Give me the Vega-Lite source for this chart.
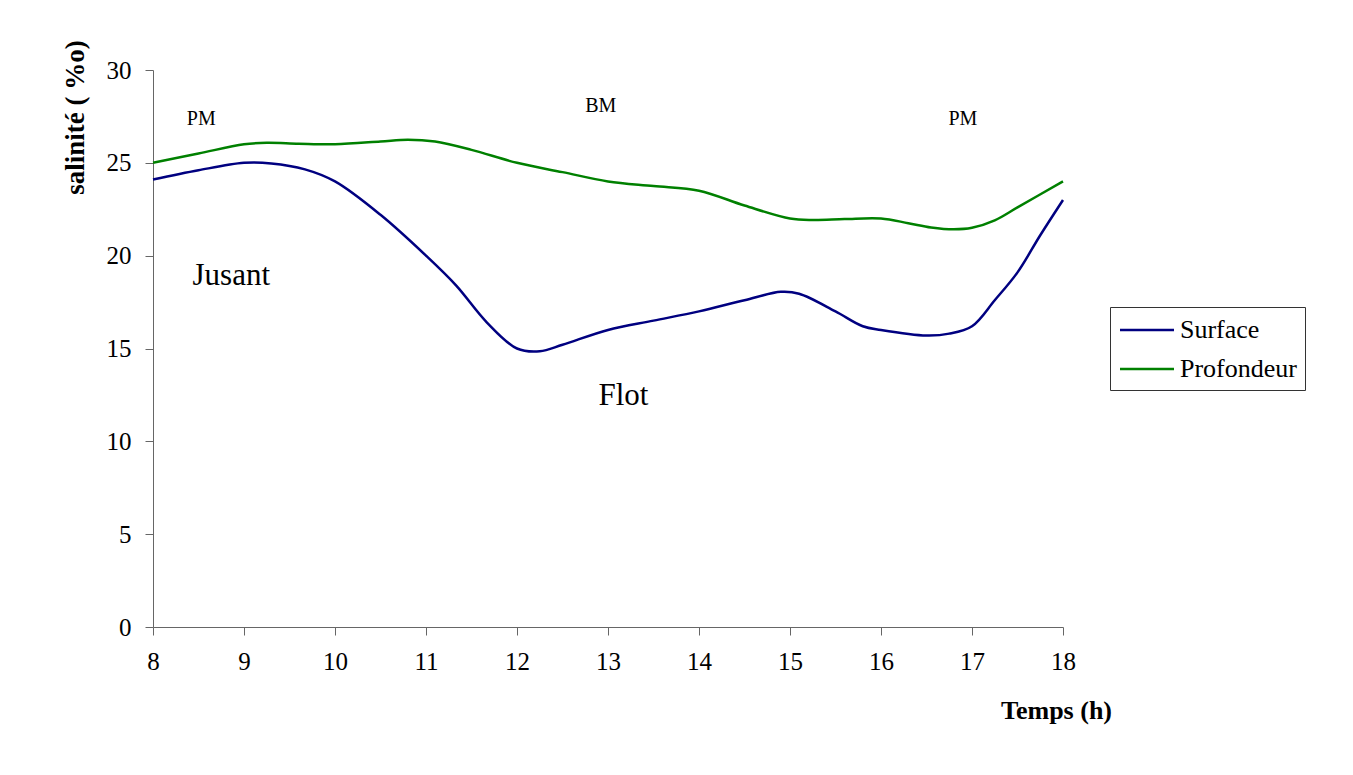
{
  "$schema": "https://vega.github.io/schema/vega-lite/v6.json",
  "width": 910,
  "height": 557,
  "autosize": {"type": "none"},
  "padding": {"left": 153, "top": 70, "right": 290, "bottom": 148},
  "background": "white",
  "datasets": {
    "series": [
      {"t": 8.0, "v": 24.1, "serie": "Surface"},
      {"t": 8.5, "v": 24.6, "serie": "Surface"},
      {"t": 9.0, "v": 25.0, "serie": "Surface"},
      {"t": 9.3, "v": 24.97, "serie": "Surface"},
      {"t": 9.67, "v": 24.65, "serie": "Surface"},
      {"t": 10.0, "v": 24.0, "serie": "Surface"},
      {"t": 10.5, "v": 22.2, "serie": "Surface"},
      {"t": 11.0, "v": 20.0, "serie": "Surface"},
      {"t": 11.33, "v": 18.4, "serie": "Surface"},
      {"t": 11.67, "v": 16.4, "serie": "Surface"},
      {"t": 12.0, "v": 15.0, "serie": "Surface"},
      {"t": 12.25, "v": 14.85, "serie": "Surface"},
      {"t": 12.5, "v": 15.2, "serie": "Surface"},
      {"t": 13.0, "v": 16.0, "serie": "Surface"},
      {"t": 13.5, "v": 16.5, "serie": "Surface"},
      {"t": 14.0, "v": 17.0, "serie": "Surface"},
      {"t": 14.5, "v": 17.6, "serie": "Surface"},
      {"t": 14.9, "v": 18.05, "serie": "Surface"},
      {"t": 15.1, "v": 17.95, "serie": "Surface"},
      {"t": 15.5, "v": 17.0, "serie": "Surface"},
      {"t": 15.8, "v": 16.2, "serie": "Surface"},
      {"t": 16.0, "v": 16.0, "serie": "Surface"},
      {"t": 16.5, "v": 15.7, "serie": "Surface"},
      {"t": 16.75, "v": 15.8, "serie": "Surface"},
      {"t": 17.0, "v": 16.2, "serie": "Surface"},
      {"t": 17.25, "v": 17.6, "serie": "Surface"},
      {"t": 17.5, "v": 19.1, "serie": "Surface"},
      {"t": 17.75, "v": 21.1, "serie": "Surface"},
      {"t": 18.0, "v": 23.0, "serie": "Surface"},
      {"t": 8.0, "v": 25.0, "serie": "Profondeur"},
      {"t": 8.5, "v": 25.5, "serie": "Profondeur"},
      {"t": 9.0, "v": 26.0, "serie": "Profondeur"},
      {"t": 9.25, "v": 26.08, "serie": "Profondeur"},
      {"t": 9.6, "v": 26.03, "serie": "Profondeur"},
      {"t": 10.0, "v": 26.0, "serie": "Profondeur"},
      {"t": 10.5, "v": 26.15, "serie": "Profondeur"},
      {"t": 10.8, "v": 26.25, "serie": "Profondeur"},
      {"t": 11.1, "v": 26.15, "serie": "Profondeur"},
      {"t": 11.5, "v": 25.7, "serie": "Profondeur"},
      {"t": 12.0, "v": 25.0, "serie": "Profondeur"},
      {"t": 12.5, "v": 24.5, "serie": "Profondeur"},
      {"t": 13.0, "v": 24.0, "serie": "Profondeur"},
      {"t": 13.5, "v": 23.75, "serie": "Profondeur"},
      {"t": 14.0, "v": 23.5, "serie": "Profondeur"},
      {"t": 14.5, "v": 22.7, "serie": "Profondeur"},
      {"t": 15.0, "v": 22.0, "serie": "Profondeur"},
      {"t": 15.25, "v": 21.92, "serie": "Profondeur"},
      {"t": 15.6, "v": 21.97, "serie": "Profondeur"},
      {"t": 16.0, "v": 22.0, "serie": "Profondeur"},
      {"t": 16.3, "v": 21.75, "serie": "Profondeur"},
      {"t": 16.55, "v": 21.52, "serie": "Profondeur"},
      {"t": 16.8, "v": 21.42, "serie": "Profondeur"},
      {"t": 17.0, "v": 21.5, "serie": "Profondeur"},
      {"t": 17.25, "v": 21.9, "serie": "Profondeur"},
      {"t": 17.5, "v": 22.6, "serie": "Profondeur"},
      {"t": 18.0, "v": 24.0, "serie": "Profondeur"}
    ],
    "small": [
      {"t": 8.53, "v": 27.35, "label": "PM"},
      {"t": 12.92, "v": 28.05, "label": "BM"},
      {"t": 16.9, "v": 27.35, "label": "PM"}
    ],
    "big": [
      {"t": 8.86, "v": 18.9, "label": "Jusant"},
      {"t": 13.17, "v": 12.45, "label": "Flot"}
    ]
  },
  "layer": [
    {
      "data": {"name": "series"},
      "mark": {"type": "line", "interpolate": "catmull-rom", "strokeWidth": 2.5},
      "encoding": {
        "x": {
          "field": "t", "type": "quantitative",
          "scale": {"domain": [8, 18], "nice": false, "zero": false},
          "axis": {
            "values": [8, 9, 10, 11, 12, 13, 14, 15, 16, 17, 18],
            "format": "d",
            "labelFlush": false,
            "title": "Temps (h)",
            "titleX": 903, "titleY": 83, "titleAlign": "center", "titleBaseline": "middle",
            "titleFontSize": 26,
            "labelPadding": 14
          }
        },
        "y": {
          "field": "v", "type": "quantitative",
          "scale": {"domain": [0, 30], "nice": false},
          "axis": {
            "values": [0, 5, 10, 15, 20, 25, 30],
            "labelFlush": false,
            "title": "salinité ( %o)",
            "titleX": -78, "titleY": 47, "titleAlign": "center", "titleBaseline": "middle", "titleAngle": -90,
            "titleFontSize": 27,
            "labelPadding": 14
          }
        },
        "color": {
          "field": "serie", "type": "nominal",
          "scale": {"domain": ["Surface", "Profondeur"], "range": ["#000080", "#008000"]},
          "legend": {"title": null}
        }
      }
    },
    {
      "data": {"name": "small"},
      "mark": {"type": "text", "font": "Liberation Serif", "fontSize": 20, "color": "black", "align": "center", "baseline": "middle"},
      "encoding": {
        "x": {"field": "t", "type": "quantitative"},
        "y": {"field": "v", "type": "quantitative"},
        "text": {"field": "label"}
      }
    },
    {
      "data": {"name": "big"},
      "mark": {"type": "text", "font": "Liberation Serif", "fontSize": 31, "color": "black", "align": "center", "baseline": "middle"},
      "encoding": {
        "x": {"field": "t", "type": "quantitative"},
        "y": {"field": "v", "type": "quantitative"},
        "text": {"field": "label"}
      }
    }
  ],
  "config": {
    "view": {"stroke": null},
    "axis": {
      "grid": false,
      "domainColor": "#666666",
      "tickColor": "#666666",
      "tickSize": 8,
      "labelFont": "Liberation Serif",
      "labelFontSize": 25,
      "labelColor": "black",
      "titleFont": "Liberation Serif",
      "titleFontSize": 25,
      "titleFontWeight": "bold",
      "titleColor": "black"
    },
    "legend": {
      "orient": "none",
      "legendX": 957,
      "legendY": 237,
      "symbolType": "M-2,0H2",
      "symbolSize": 729,
      "symbolStrokeWidth": 2.5,
      "symbolOffset": 14,
      "labelFont": "Liberation Serif",
      "labelFontSize": 26,
      "labelColor": "black",
      "labelOffset": 18,
      "strokeColor": "#333333",
      "padding": 8,
      "rowPadding": 11
    }
  }
}
